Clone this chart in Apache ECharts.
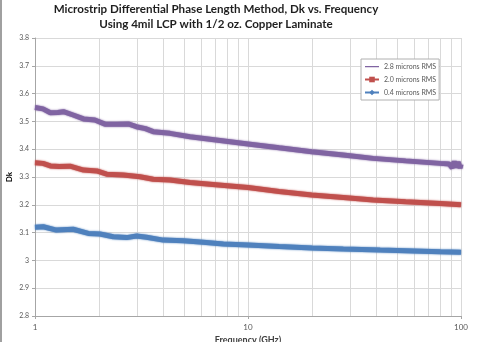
<!DOCTYPE html>
<html><head><meta charset="utf-8">
<script src="https://cdn.jsdelivr.net/npm/echarts@6/dist/echarts.min.js"></script>
<style>html,body{margin:0;padding:0;background:#fff}#c{width:481px;height:342px}</style>
</head><body><div id="c"></div>
<script>
var seriesNames = ['2.8 microns RMS', '2.0 microns RMS', '0.4 microns RMS'];
var freq28 = [1, 1.09, 1.18, 1.28, 1.36, 1.51, 1.69, 1.91, 2.13, 2.42, 2.74, 2.99, 3.3, 3.59, 4.3, 5.34, 6.63, 8.24, 10, 14, 19.9, 28, 38.7, 55, 79.9, 88, 91, 93, 95, 97, 99, 100];
var dk28 = [3.55, 3.545, 3.531, 3.532, 3.535, 3.523, 3.509, 3.505, 3.49, 3.49, 3.491, 3.481, 3.474, 3.463, 3.457, 3.445, 3.436, 3.427, 3.419, 3.405, 3.391, 3.379, 3.367, 3.358, 3.349, 3.347, 3.333, 3.356, 3.335, 3.354, 3.332, 3.346];
var freq20 = [1, 1.09, 1.18, 1.3, 1.46, 1.69, 1.95, 2.17, 2.6, 3.11, 3.59, 4.3, 5.34, 6.63, 8.24, 10, 14, 19.9, 28, 38.7, 55, 79.9, 100];
var dk20 = [3.351, 3.349, 3.340, 3.338, 3.339, 3.325, 3.322, 3.31, 3.307, 3.301, 3.292, 3.289, 3.28, 3.274, 3.268, 3.262, 3.248, 3.235, 3.226, 3.217, 3.211, 3.205, 3.2];
var freq04 = [1, 1.094, 1.26, 1.51, 1.78, 2.02, 2.33, 2.69, 3.0, 3.34, 4.0, 4.97, 6.17, 7.67, 10, 14, 20, 28, 41.7, 60, 80, 100];
var dk04 = [3.119, 3.121, 3.109, 3.112, 3.097, 3.095, 3.085, 3.082, 3.088, 3.083, 3.073, 3.071, 3.065, 3.059, 3.055, 3.05, 3.045, 3.041, 3.037, 3.034, 3.031, 3.029];
var minorFreqs = [2, 3, 4, 5, 6, 7, 8, 9, 20, 30, 40, 50, 60, 70, 80, 90];
var titleLines = ['Microstrip Differential Phase Length Method, Dk vs. Frequency', 'Using 4mil LCP with 1/2 oz. Copper Laminate'];
var xName = 'Frequency (GHz)';
var yName = 'Dk';
var yMin = 2.8, yMax = 3.8;

function pairs(xs, ys) { return xs.map(function (x, i) { return [x, ys[i]]; }); }
var colors = ['#8064A2', '#C0504D', '#4F81BD'];
var symbols = ['emptyCircle', 'rect', 'diamond'];
var dataSets = [pairs(freq28, dk28), pairs(freq20, dk20), pairs(freq04, dk04)];
var FONT = 'Lato';

var series = [{
  name: 'minorGrid', type: 'custom', silent: true, z: 1,
  data: minorFreqs.map(function (f) { return [f, yMin]; }),
  encode: { x: 0, y: 1 },
  renderItem: function (params, api) {
    var f = api.value(0);
    var p0 = api.coord([f, yMin]);
    var p1 = api.coord([f, yMax]);
    var x = Math.round(p0[0]) + 0.5;
    return { type: 'line', shape: { x1: x, y1: p0[1], x2: x, y2: p1[1] },
      style: { stroke: '#d9d9d9', lineWidth: 1 } };
  }
}];
seriesNames.forEach(function (n, i) {
  series.push({
    name: n, type: 'line', data: dataSets[i], showSymbol: false,
    symbol: symbols[i], symbolSize: 4,
    lineStyle: { color: colors[i], width: 5, shadowColor: colors[i], shadowBlur: 2 },
    itemStyle: { color: colors[i] },
    z: 5
  });
});

var lineIcon = 'path://M0,3h14v1.2h-14zM0,0h0.01v0.01h-0.01zM0,7h0.01v0.01h-0.01z';

var chart = echarts.init(document.getElementById('c'), null, { renderer: 'canvas' });
chart.setOption({
  animation: false,
  backgroundColor: '#fff',
  textStyle: { fontFamily: FONT },
  title: {
    text: titleLines.join('\n'),
    left: 216, top: 2, padding: 0, textAlign: 'center',
    textStyle: { fontFamily: FONT, fontSize: 11.6, fontWeight: 'bold', color: '#1f1f1f', lineHeight: 15 }
  },
  legend: {
    orient: 'vertical', left: 361, top: 59,
    padding: [4, 3, 4, 3], itemGap: 6, itemWidth: 14, itemHeight: 7,
    backgroundColor: '#fff', borderColor: '#b0b0b0', borderWidth: 1,
    textStyle: { fontFamily: FONT, fontSize: 7, color: '#595959' },
    data: [{ name: seriesNames[0], icon: lineIcon }, seriesNames[1], seriesNames[2]]
  },
  grid: { left: 35, right: 20, top: 38, bottom: 26, containLabel: false, outerBoundsMode: 'none' },
  xAxis: {
    type: 'log', logBase: 10, min: 1, max: 100,
    name: xName, nameLocation: 'middle', nameGap: 20, nameMoveOverlap: false,
    nameTextStyle: { fontFamily: FONT, fontSize: 9, fontWeight: 'bold', color: '#404040' },
    axisLine: { lineStyle: { color: '#a6a6a6' } },
    axisTick: { show: true, length: 3, lineStyle: { color: '#a6a6a6' } },
    axisLabel: { fontFamily: FONT, fontSize: 8, color: '#595959', margin: 7,
      formatter: function (v) { return String(Math.round(v)); } },
    splitLine: { show: true, lineStyle: { color: '#d9d9d9' } }
  },
  yAxis: {
    type: 'value', min: yMin, max: yMax, interval: 0.1,
    name: yName, nameLocation: 'middle', nameGap: 22, nameRotate: 90, nameMoveOverlap: false,
    nameTextStyle: { fontFamily: FONT, fontSize: 8, fontWeight: 'bold', color: '#000' },
    axisLine: { show: true, lineStyle: { color: '#a6a6a6' } },
    axisTick: { show: true, length: 3, inside: false, lineStyle: { color: '#a6a6a6' } },
    axisLabel: { fontFamily: FONT, fontSize: 7, color: '#595959', margin: 6,
      formatter: function (v) { return String(Math.round(v * 10) / 10); } },
    splitLine: { show: true, lineStyle: { color: '#d9d9d9' } }
  },
  graphic: [{ type: 'rect', left: 0, top: 0, shape: { width: 2, height: 342 }, style: { fill: '#a0a0a0' }, silent: true }],
  series: series
});
</script></body></html>
